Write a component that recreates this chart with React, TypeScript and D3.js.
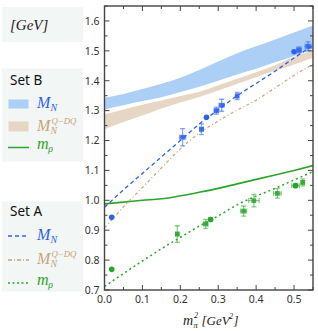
import React from 'react';
import * as d3 from 'd3';

// grid of m_pi^2 values used by the bands and fit curves
const xs = [0, 0.05, 0.1, 0.15, 0.2, 0.25, 0.3, 0.35, 0.4, 0.45, 0.5, 0.55];

// Set B
const bandMN_hi = [1.343, 1.356, 1.372, 1.39, 1.41, 1.436, 1.464, 1.492, 1.515, 1.538, 1.561, 1.585];
const bandMN_lo = [1.304, 1.318, 1.332, 1.345, 1.362, 1.38, 1.4, 1.421, 1.44, 1.462, 1.483, 1.507];
const bandQDQ_hi = [1.288, 1.304, 1.32, 1.334, 1.349, 1.363, 1.385, 1.407, 1.428, 1.452, 1.48, 1.502];
const bandQDQ_lo = [1.238, 1.262, 1.284, 1.307, 1.327, 1.346, 1.367, 1.39, 1.412, 1.433, 1.454, 1.477];
const mrhoB = [0.988, 0.994, 1.0, 1.005, 1.015, 1.027, 1.04, 1.055, 1.07, 1.085, 1.1, 1.116];

// Set A fits
const fitMN_A = [0.977, 1.035, 1.09, 1.145, 1.2, 1.255, 1.303, 1.35, 1.391, 1.432, 1.476, 1.518];
const fitQDQ_A = [0.908, 0.978, 1.043, 1.108, 1.172, 1.225, 1.265, 1.302, 1.335, 1.376, 1.418, 1.455];
const fitRho_A = [0.712, 0.755, 0.797, 0.838, 0.876, 0.914, 0.948, 0.985, 1.014, 1.04, 1.068, 1.096];

// lattice points: x, y, x error, y error, marker
const ptsMN = [
  {x: 0.019, y: 0.943, ex: 0, ey: 0, m: 'c'},
  {x: 0.206, y: 1.211, ex: 0.008, ey: 0.029, m: 's'},
  {x: 0.256, y: 1.238, ex: 0.005, ey: 0.018, m: 's'},
  {x: 0.269, y: 1.278, ex: 0, ey: 0, m: 'c'},
  {x: 0.295, y: 1.300, ex: 0.006, ey: 0.012, m: 's'},
  {x: 0.309, y: 1.318, ex: 0.007, ey: 0.02, m: 's'},
  {x: 0.35, y: 1.349, ex: 0.003, ey: 0.012, m: 's'},
  {x: 0.5, y: 1.497, ex: 0, ey: 0, m: 'c'},
  {x: 0.513, y: 1.503, ex: 0.006, ey: 0.01, m: 's'},
  {x: 0.537, y: 1.515, ex: 0.008, ey: 0.015, m: 's'},
];
const ptsRho = [
  {x: 0.019, y: 0.769, ex: 0, ey: 0, m: 'c'},
  {x: 0.192, y: 0.887, ex: 0.004, ey: 0.028, m: 's'},
  {x: 0.267, y: 0.921, ex: 0.006, ey: 0.015, m: 's'},
  {x: 0.28, y: 0.936, ex: 0.004, ey: 0.004, m: 'c'},
  {x: 0.367, y: 0.964, ex: 0.008, ey: 0.017, m: 's'},
  {x: 0.394, y: 0.999, ex: 0.014, ey: 0.021, m: 's'},
  {x: 0.456, y: 1.023, ex: 0.01, ey: 0.016, m: 's'},
  {x: 0.504, y: 1.049, ex: 0.01, ey: 0.006, m: 'c'},
  {x: 0.523, y: 1.06, ex: 0.004, ey: 0.012, m: 's'},
];

const xTicks = [0, 0.1, 0.2, 0.3, 0.4, 0.5];
const yTicks = [0.7, 0.8, 0.9, 1.0, 1.1, 1.2, 1.3, 1.4, 1.5, 1.6];

const BLUE = '#2e62ee';
const TAN = '#c9a37a';
const GREEN = '#2aa52a';
const BAND_BLUE = '#abcff5';
const BAND_TAN = '#e6d6c4';
const AXIS = '#444';
const BOX = '#f2f6f5';
const SERIF = "'Liberation Serif', serif";

const W = 318, H = 331;
const plot = {left: 104.5, right: 313, top: 6, bottom: 290};

function Points({data, x, y, color}) {
  return (
    <g>
      {data.map((d, i) => {
        const cx = x(d.x), cy = y(d.y);
        const y0 = y(d.y - d.ey), y1 = y(d.y + d.ey);
        const x0 = x(d.x - d.ex), x1 = x(d.x + d.ex);
        return (
          <g key={i}>
            {d.ey > 0 && <g stroke={color} strokeOpacity={0.55} strokeWidth={1.3}>
              <line x1={cx} x2={cx} y1={y0} y2={y1}/>
              <line x1={cx - 2.5} x2={cx + 2.5} y1={y0} y2={y0}/>
              <line x1={cx - 2.5} x2={cx + 2.5} y1={y1} y2={y1}/>
            </g>}
            {d.ex > 0 && <g stroke={color} strokeOpacity={0.55} strokeWidth={1.3}>
              <line x1={x0} x2={x1} y1={cy} y2={cy}/>
              <line x1={x0} x2={x0} y1={cy - 2.5} y2={cy + 2.5}/>
              <line x1={x1} x2={x1} y1={cy - 2.5} y2={cy + 2.5}/>
            </g>}
            {d.m === 'c'
              ? <circle cx={cx} cy={cy} r={2.8} fill={color}/>
              : <rect x={cx - 2.4} y={cy - 2.4} width={4.8} height={4.8} fill={color} fillOpacity={0.85}/>}
          </g>
        );
      })}
    </g>
  );
}

function MathLabel({x, y, base, sub, sup, color, size = 16}) {
  const subX = x + (base === 'M' ? size * 0.84 : size * 0.7);
  return (
    <g fill={color} fontFamily={SERIF} fontStyle="italic">
      <text x={x} y={y} fontSize={size}>{base}</text>
      <text x={subX} y={y + 3} fontSize={size * 0.62}>{sub}</text>
      {sup && <text x={subX + 1} y={y - 7.5} fontSize={size * 0.55}>{sup}</text>}
    </g>
  );
}

export default function App() {
  const x = d3.scaleLinear().domain([0, 0.55]).range([plot.left, plot.right]);
  const y = d3.scaleLinear().domain([0.7, 1.65]).range([plot.bottom, plot.top]);

  const band = (lo, hi) => d3.area()
    .x((d, i) => x(xs[i]))
    .y0((d, i) => y(lo[i]))
    .y1((d, i) => y(hi[i]))
    .curve(d3.curveMonotoneX)(xs);

  const line = d3.line()
    .x((d, i) => x(xs[i]))
    .y(d => y(d))
    .curve(d3.curveMonotoneX);

  const xMinor = d3.range(0, 0.5501, 0.05);
  const yMinor = d3.range(0.7, 1.6501, 0.05);
  const fmt = d3.format('.1f');

  return (
    <svg width={W} height={H} style={{position: 'absolute', left: 0, top: 0, background: '#fff'}}>
      <defs>
        <clipPath id="plotclip">
          <rect x={plot.left} y={plot.top} width={plot.right - plot.left} height={plot.bottom - plot.top}/>
        </clipPath>
      </defs>

      {/* legend boxes */}
      <rect x={2} y={7} width={81} height={35} fill={BOX}/>
      <rect x={2} y={68.5} width={81} height={93} fill={BOX}/>
      <rect x={2} y={201.5} width={81} height={90} fill={BOX}/>

      <text x={10} y={30} fontSize={15} fontFamily={SERIF} fontStyle="italic" fill="#222">[GeV]</text>

      <text x={10} y={85} fontSize={13.5} fontFamily="'Noto Sans', sans-serif" fill="#111">Set B</text>
      <rect x={8.5} y={99.5} width={20} height={9} fill={BAND_BLUE}/>
      <MathLabel x={37} y={108} base="M" sub="N" color={BLUE}/>
      <rect x={8.5} y={121.5} width={20} height={10} fill={BAND_TAN}/>
      <MathLabel x={37} y={131} base="M" sub="N" sup="Q−DQ" color={TAN}/>
      <line x1={8} x2={29} y1={147.5} y2={147.5} stroke={GREEN} strokeWidth={1.5}/>
      <MathLabel x={37} y={149} base="m" sub="ρ" color={GREEN}/>

      <text x={10} y={215.5} fontSize={13.5} fontFamily="'Noto Sans', sans-serif" fill="#111">Set A</text>
      <line x1={8} x2={29} y1={236} y2={236} stroke={BLUE} strokeWidth={1.3} strokeDasharray="4,3"/>
      <MathLabel x={37} y={240} base="M" sub="N" color={BLUE}/>
      <line x1={8} x2={29} y1={260} y2={260} stroke={TAN} strokeWidth={1.3} strokeDasharray="4,2,1,2"/>
      <MathLabel x={37} y={264} base="M" sub="N" sup="Q−DQ" color={TAN}/>
      <line x1={8} x2={29} y1={283} y2={283} stroke={GREEN} strokeWidth={1.5} strokeDasharray="2,2.5"/>
      <MathLabel x={37} y={285} base="m" sub="ρ" color={GREEN}/>

      {/* plot */}
      <g clipPath="url(#plotclip)">
        <path d={band(bandMN_lo, bandMN_hi)} fill={BAND_BLUE}/>
        <path d={band(bandQDQ_lo, bandQDQ_hi)} fill={BAND_TAN}/>
        <path d={line(mrhoB)} fill="none" stroke={GREEN} strokeWidth={1.6}/>
        <path d={line(fitMN_A)} fill="none" stroke={BLUE} strokeWidth={1.3} strokeDasharray="4,3"/>
        <path d={line(fitQDQ_A)} fill="none" stroke={TAN} strokeWidth={1.2} strokeDasharray="3,2.5,1,2.5"/>
        <path d={line(fitRho_A)} fill="none" stroke={GREEN} strokeWidth={1.5} strokeDasharray="2,3"/>
        <Points data={ptsRho} x={x} y={y} color={GREEN}/>
        <Points data={ptsMN} x={x} y={y} color={BLUE}/>
      </g>

      {/* frame and ticks */}
      <g stroke={AXIS} strokeWidth={1}>
        {xMinor.map((t, i) => {
          const len = i % 2 === 0 ? 5 : 3;
          return (
            <g key={'x' + i}>
              <line x1={x(t)} x2={x(t)} y1={plot.bottom} y2={plot.bottom - len}/>
              <line x1={x(t)} x2={x(t)} y1={plot.top} y2={plot.top + len}/>
            </g>
          );
        })}
        {yMinor.map((t, i) => {
          const len = i % 2 === 0 ? 5 : 3;
          return (
            <g key={'y' + i}>
              <line x1={plot.left} x2={plot.left + len} y1={y(t)} y2={y(t)}/>
              <line x1={plot.right} x2={plot.right - len} y1={y(t)} y2={y(t)}/>
            </g>
          );
        })}
        <rect x={plot.left} y={plot.top} width={plot.right - plot.left} height={plot.bottom - plot.top}
              fill="none" strokeWidth={1.4}/>
      </g>

      <g fontFamily="'Noto Sans', sans-serif" fontSize={10.5} fill="#333">
        {yTicks.map(t => (
          <text key={t} x={plot.left - 5} y={y(t) + 3.8} textAnchor="end">{fmt(t)}</text>
        ))}
        {xTicks.map(t => (
          <text key={t} x={x(t)} y={303} textAnchor="middle">{fmt(t)}</text>
        ))}
      </g>

      <g fontFamily={SERIF} fontStyle="italic" fill="#222">
        <text x={183} y={325} fontSize={14}>m</text>
        <text x={193.5} y={328} fontSize={8.5}>π</text>
        <text x={194} y={318} fontSize={8}>2</text>
        <text x={201.5} y={325} fontSize={13}>[GeV</text>
        <text x={229} y={319} fontSize={8}>2</text>
        <text x={233.5} y={325} fontSize={13}>]</text>
      </g>
    </svg>
  );
}
